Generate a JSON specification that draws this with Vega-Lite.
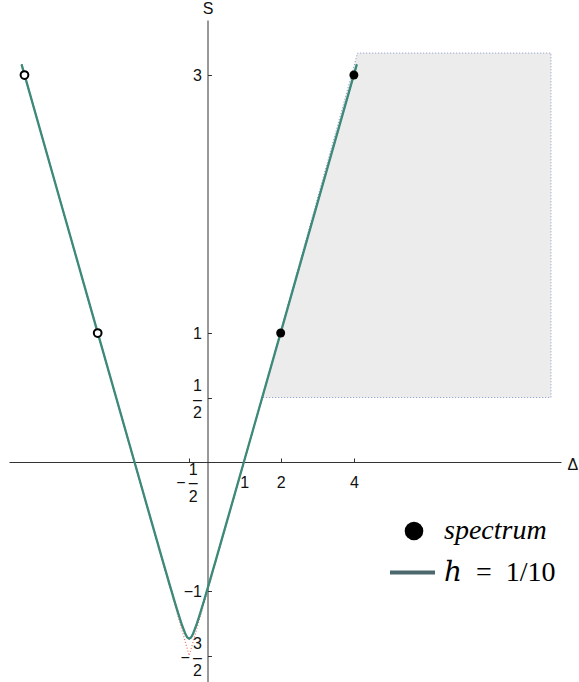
{
  "$schema": "https://vega.github.io/schema/vega-lite/v6.json",
  "width": 552,
  "height": 662,
  "autosize": {"type": "none"},
  "padding": {"left": 9, "top": 20, "right": 18, "bottom": 0},
  "background": "white",
  "config": {"view": {"stroke": null}, "font": "Liberation Sans"},
  "datasets": {
    "curve": [
      {"delta": -5.08, "S": 3.082},
      {"delta": -4, "S": 2.0024},
      {"delta": -3, "S": 1.0034},
      {"delta": -2, "S": 0.0056},
      {"delta": -1.5, "S": -0.4916},
      {"delta": -1.25, "S": -0.7388},
      {"delta": -1, "S": -0.9834},
      {"delta": -0.9, "S": -1.0794},
      {"delta": -0.8, "S": -1.173},
      {"delta": -0.7, "S": -1.2615},
      {"delta": -0.6, "S": -1.336},
      {"delta": -0.55, "S": -1.3607},
      {"delta": -0.5, "S": -1.37},
      {"delta": -0.45, "S": -1.3607},
      {"delta": -0.4, "S": -1.336},
      {"delta": -0.3, "S": -1.2615},
      {"delta": -0.2, "S": -1.173},
      {"delta": -0.1, "S": -1.0794},
      {"delta": 0, "S": -0.9834},
      {"delta": 0.25, "S": -0.7388},
      {"delta": 0.5, "S": -0.4916},
      {"delta": 1, "S": 0.0056},
      {"delta": 2, "S": 1.0034},
      {"delta": 3, "S": 2.0024},
      {"delta": 4.08, "S": 3.082}
    ],
    "vee": [
      {"delta": -5.08, "S": 3.08},
      {"delta": -0.5, "S": -1.5},
      {"delta": 4.08, "S": 3.08}
    ],
    "region": [
      {"delta": 1.5, "S": 0.5},
      {"delta": 4.1, "S": 3.17},
      {"delta": 9.385, "S": 3.17}
    ],
    "points": [
      {"delta": 2, "S": 1, "kind": "spectrum"},
      {"delta": 4, "S": 3, "kind": "spectrum"},
      {"delta": -3, "S": 1, "kind": "mirror"},
      {"delta": -5, "S": 3, "kind": "mirror"}
    ]
  },
  "encoding": {
    "x": {
      "field": "delta",
      "type": "quantitative",
      "scale": {"domain": [-5.423, 9.659], "nice": false, "zero": false},
      "axis": {
        "title": "Δ",
        "orient": "bottom",
        "offset": -220,
        "values": [-0.5, 1, 2, 4],
        "labelExpr": "datum.value == -0.5 ? ['1', '\u2212\u2009\u2013', '2'] : datum.label",
        "grid": false,
        "domainColor": "#333333",
        "domainWidth": 1,
        "tickColor": "#333333",
        "tickWidth": 1,
        "tickSize": -4,
        "labelPadding": {"condition": {"test": "datum.value == -0.5", "value": 11}, "value": 24},
        "labelOffset": {"condition": {"test": "datum.value == -0.5", "value": 8}, "value": 0},
        "labelAlign": {"condition": {"test": "datum.value == -0.5", "value": "right"}, "value": "center"},
        "labelBaseline": "middle",
        "labelFont": "Liberation Sans",
        "labelFontSize": 16,
        "labelLineHeight": 13.5,
        "labelColor": "#111111",
        "labelOverlap": false,
        "labelFlush": false,
        "titleFont": "Liberation Sans",
        "titleFontSize": 16,
        "titleFontWeight": "normal",
        "titleColor": "#111111",
        "titleAngle": 0,
        "titleX": 558,
        "titleY": 2,
        "titleAlign": "left",
        "titleBaseline": "middle"
      }
    },
    "y": {
      "field": "S",
      "type": "quantitative",
      "scale": {"domain": [-1.7054, 3.4264], "nice": false, "zero": false},
      "axis": {
        "title": "S",
        "orient": "left",
        "offset": -198.5,
        "values": [-1.5, -1, 0.5, 1, 3],
        "labelExpr": "datum.value == 0.5 ? ['1', '\u2013', '2'] : datum.value == -1.5 ? ['3', '\u2212\u2009\u2013', '2'] : datum.value == -1 ? '\u22121' : datum.label",
        "grid": false,
        "domainColor": "#333333",
        "domainWidth": 1,
        "tickColor": "#333333",
        "tickWidth": 1,
        "tickSize": -4,
        "labelPadding": 10,
        "labelOffset": {"condition": {"test": "datum.value == 0.5 || datum.value == -1.5", "value": -12}, "value": 0},
        "labelAlign": "right",
        "labelBaseline": "middle",
        "labelFont": "Liberation Sans",
        "labelFontSize": 16,
        "labelLineHeight": 13.5,
        "labelColor": "#111111",
        "labelOverlap": false,
        "labelFlush": false,
        "titleFont": "Liberation Sans",
        "titleFontSize": 16,
        "titleFontWeight": "normal",
        "titleColor": "#111111",
        "titleAngle": 0,
        "titleX": 0,
        "titleY": -12,
        "titleAlign": "center",
        "titleBaseline": "middle"
      }
    }
  },
  "layer": [
    {
      "data": {"name": "region"},
      "mark": {"type": "area", "fill": "#ececec", "stroke": "#8394c8", "strokeWidth": 1, "strokeDash": [1, 2]},
      "encoding": {"y2": {"datum": 0.5}}
    },
    {
      "data": {"name": "vee"},
      "mark": {"type": "line", "stroke": "#e8705f", "strokeWidth": 1.2, "strokeDash": [1, 2]},
      "encoding": {}
    },
    {
      "data": {"name": "curve"},
      "mark": {"type": "line", "strokeWidth": 1.2},
      "encoding": {
        "stroke": {
          "datum": "\u210e\u2002=\u20021/10",
          "scale": {"range": ["#4b686c"]},
          "legend": {
            "orient": "none",
            "legendX": 379,
            "legendY": 528,
            "title": null,
            "padding": 0,
            "symbolType": "stroke",
            "symbolSize": 2025,
            "symbolStrokeWidth": 4,
            "labelFont": "Liberation Serif, DejaVu Serif",
            "labelFontSize": 28,
            "labelOffset": 7,
            "labelColor": "black",
            "labelLimit": 300
          }
        }
      }
    },
    {
      "data": {"name": "curve"},
      "mark": {"type": "line", "stroke": "#3d8a7a", "strokeWidth": 2.3},
      "encoding": {}
    },
    {
      "data": {"name": "points"},
      "transform": [{"filter": "datum.kind == 'mirror'"}],
      "mark": {"type": "point", "shape": "circle", "filled": true, "fill": "white", "stroke": "black", "strokeWidth": 2, "size": 60, "opacity": 1}
    },
    {
      "data": {"name": "points"},
      "transform": [{"filter": "datum.kind == 'spectrum'"}],
      "mark": {"type": "point", "shape": "circle", "filled": true, "size": 80, "opacity": 1},
      "encoding": {
        "color": {
          "datum": "spectrum",
          "scale": {"range": ["black"]},
          "legend": {
            "orient": "none",
            "legendX": 391,
            "legendY": 497,
            "title": null,
            "padding": 0,
            "symbolType": "circle",
            "symbolSize": 346,
            "symbolStrokeWidth": 0,
            "symbolOpacity": 1,
            "labelFont": "Liberation Serif",
            "labelFontStyle": "italic",
            "labelFontSize": 28,
            "labelOffset": 16,
            "labelColor": "black",
            "labelLimit": 300
          }
        }
      }
    }
  ]
}
